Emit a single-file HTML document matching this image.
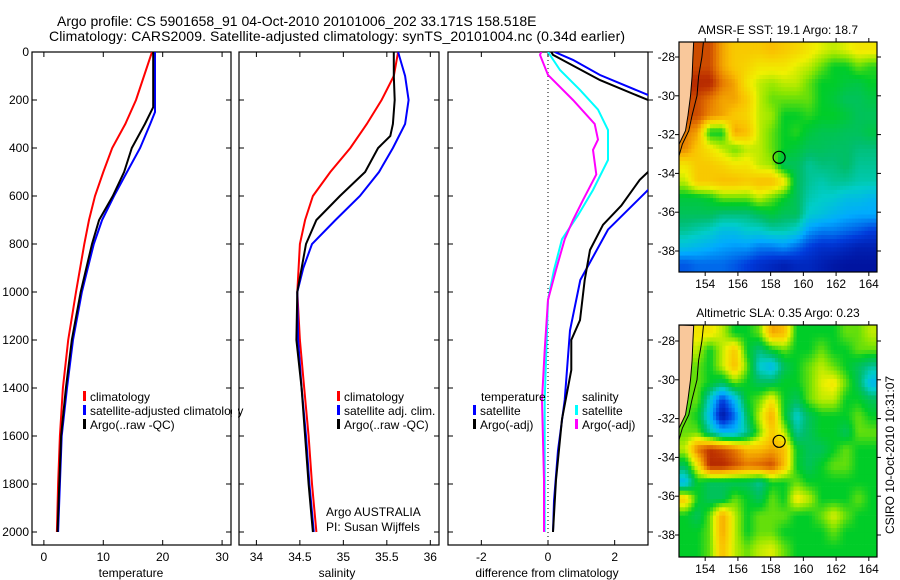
<!DOCTYPE html>
<html><head><meta charset="utf-8">
<style>
html,body{margin:0;padding:0;background:#fff;}
svg{display:block;font-family:"Liberation Sans",sans-serif;}
</style></head>
<body>
<svg id="fig" width="900" height="580" viewBox="0 0 900 580" xmlns="http://www.w3.org/2000/svg">
<defs>
<clipPath id="c1"><rect x="32" y="52" width="199" height="493"/></clipPath>
<clipPath id="c2"><rect x="239" y="52" width="200" height="493"/></clipPath>
<clipPath id="c3"><rect x="448" y="52" width="200" height="493"/></clipPath>
<clipPath id="cm1"><rect x="679" y="42" width="198" height="230"/></clipPath>
<clipPath id="cm2"><rect x="679" y="325" width="198" height="232"/></clipPath>
</defs>
<text x="57" y="26" font-size="14">Argo profile: CS 5901658_91 04-Oct-2010 20101006_202 33.171S 158.518E</text>
<text x="49" y="41" font-size="14" textLength="576">Climatology: CARS2009. Satellite-adjusted climatology: synTS_20101004.nc (0.34d earlier)</text>
<g id="layer"></g>
</svg>
<script>
// ---------- profile data ----------
const tClimDepth=[0,200,300,400,500,600,700,800,1000,1200,1400,1600,1800,2000];
const tClim=[18.2,15.5,13.7,11.5,10,8.6,7.6,6.8,5.4,4.1,3.2,2.7,2.4,2.2];
const tSatDepth=[0,250,300,400,500,600,700,800,900,1000,1200,1400,1600,1800,2000];
const tSat=[18.7,18.7,17.9,16.2,14,11.8,9.8,8.4,7.4,6.4,4.9,3.9,3.0,2.7,2.4];
const tArgoDepth=[0,230,300,400,500,600,700,800,1000,1200,1400,1600,1800,2000];
const tArgo=[18.4,18.4,17,14.8,13.5,11.6,9.3,8.1,6.2,4.7,3.7,2.9,2.6,2.3];

const sClimDepth=[0,100,200,300,400,500,600,700,800,1000,1200,1400,1600,1800,2000];
const sClim=[35.63,35.58,35.44,35.27,35.08,34.85,34.65,34.56,34.5,34.47,34.5,34.55,34.6,34.64,34.69];
const sSatDepth=[0,50,100,200,300,400,500,600,700,800,900,1000,1200,1400,1600,1800,2000];
const sSat=[35.63,35.67,35.71,35.75,35.71,35.57,35.41,35.19,34.91,34.64,34.54,34.47,34.48,34.52,34.57,34.61,34.66];
const sArgoDepth=[0,100,200,300,350,400,500,600,700,800,1000,1200,1400,1600,1800,2000];
const sArgo=[35.58,35.58,35.59,35.57,35.54,35.4,35.25,34.96,34.69,34.57,34.47,34.46,34.52,34.56,34.6,34.65];

const dTSatDepth=[0,33,96,179,250,400,575,740,950,1160,1450,1660,1870,2000];
const dTSat=[0.2,0.75,1.56,3,4,4.5,3,1.8,0.97,0.66,0.5,0.3,0.18,0.15];
const dTArgoDepth=[0,12,117,200,300,500,533,640,720,825,950,1117,1200,1325,1530,1783,2000];
const dTArgo=[0.1,0.15,1.56,3,4,3,2.75,2.2,1.65,1.26,1.1,0.96,0.7,0.7,0.42,0.24,0.15];
const dSSatDepth=[0,75,158,240,325,450,575,680,780,908,1033,1450,2000];
const dSSat=[0,0.36,0.96,1.5,1.8,1.8,1.35,0.9,0.42,0.18,0,-0.1,-0.1];
const dSArgoDepth=[0,12,96,200,300,365,408,510,617,700,780,908,1033,1242,1450,1783,2000];
const dSArgo=[-0.2,-0.24,0,0.75,1.4,1.5,1.35,1.45,1.05,0.75,0.5,0.24,0,-0.1,-0.18,-0.12,-0.12];

const depthTicks=[0,200,400,600,800,1000,1200,1400,1600,1800,2000];
const tempTicks=[0,10,20,30];
const salTicks=[34,34.5,35,35.5,36];
const salTickLabels=["34","34.5","35","35.5","36"];
const diffTicks=[-2,0,2];

// ---------- map data (values 0..1 on colour scale, null = land) ----------
const sstGrid=[
[null,null,0.85,0.75,0.7,0.7,0.7,0.72,0.7,0.68,0.65,0.62,0.6,0.62,0.65,0.65],
[null,0.85,0.85,0.75,0.7,0.68,0.65,0.65,0.65,0.62,0.6,0.55,0.5,0.5,0.55,0.52],
[null,0.9,0.9,0.8,0.75,0.65,0.6,0.58,0.6,0.6,0.55,0.5,0.5,0.48,0.47,0.5],
[null,0.85,0.8,0.75,0.75,0.7,0.6,0.55,0.55,0.55,0.55,0.5,0.48,0.45,0.45,0.47],
[null,0.85,0.78,0.75,0.7,0.68,0.6,0.58,0.5,0.5,0.52,0.5,0.5,0.48,0.45,0.45],
[0.8,0.75,0.5,0.5,0.75,0.72,0.6,0.55,0.5,0.52,0.48,0.46,0.46,0.45,0.45,0.47],
[0.78,0.7,0.65,0.6,0.55,0.6,0.6,0.55,0.5,0.48,0.45,0.45,0.44,0.44,0.42,0.42],
[0.65,0.7,0.7,0.68,0.65,0.65,0.6,0.58,0.45,0.45,0.4,0.42,0.42,0.44,0.4,0.4],
[0.6,0.7,0.7,0.72,0.72,0.7,0.72,0.72,0.65,0.45,0.4,0.38,0.4,0.4,0.38,0.38],
[0.48,0.48,0.5,0.55,0.55,0.55,0.6,0.55,0.5,0.45,0.38,0.36,0.35,0.32,0.32,0.3],
[0.45,0.45,0.45,0.42,0.42,0.42,0.45,0.48,0.45,0.45,0.35,0.33,0.3,0.28,0.27,0.27],
[0.4,0.38,0.36,0.32,0.32,0.35,0.35,0.38,0.38,0.35,0.25,0.22,0.22,0.2,0.18,0.15],
[0.32,0.3,0.28,0.26,0.25,0.25,0.22,0.22,0.24,0.2,0.15,0.12,0.12,0.1,0.08,0.08],
[0.18,0.2,0.2,0.2,0.18,0.15,0.12,0.1,0.08,0.1,0.1,0.08,0.06,0.05,0.05,0.05]];
const slaGrid=[
[null,null,0.65,0.6,0.5,0.5,0.55,0.75,0.72,0.5,0.5,0.5,0.5,0.55,0.55,0.6],
[null,0.6,0.5,0.6,0.7,0.5,0.42,0.5,0.55,0.5,0.5,0.55,0.5,0.5,0.55,0.55],
[null,0.55,0.5,0.6,0.72,0.55,0.35,0.3,0.45,0.5,0.55,0.6,0.55,0.5,0.45,0.4],
[null,0.55,0.5,0.45,0.55,0.5,0.45,0.45,0.5,0.5,0.55,0.62,0.65,0.55,0.45,0.3],
[null,0.55,0.35,0.15,0.3,0.5,0.55,0.65,0.5,0.45,0.55,0.6,0.6,0.5,0.5,0.45],
[0.55,0.5,0.3,0.05,0.2,0.45,0.6,0.75,0.5,0.35,0.45,0.5,0.5,0.5,0.55,0.5],
[0.55,0.55,0.4,0.3,0.3,0.4,0.55,0.7,0.6,0.4,0.45,0.5,0.5,0.45,0.55,0.55],
[0.6,0.8,0.88,0.85,0.8,0.72,0.72,0.75,0.72,0.5,0.45,0.45,0.5,0.55,0.5,0.5],
[0.45,0.65,0.9,0.9,0.85,0.8,0.82,0.85,0.72,0.5,0.45,0.5,0.55,0.55,0.5,0.5],
[0.3,0.5,0.45,0.45,0.45,0.45,0.4,0.5,0.5,0.55,0.5,0.5,0.5,0.5,0.5,0.5],
[0.7,0.5,0.45,0.45,0.55,0.5,0.45,0.55,0.5,0.65,0.6,0.5,0.5,0.5,0.55,0.5],
[0.5,0.45,0.55,0.75,0.6,0.5,0.55,0.55,0.55,0.5,0.5,0.55,0.62,0.55,0.5,0.5],
[0.5,0.5,0.55,0.75,0.6,0.5,0.55,0.55,0.5,0.5,0.5,0.5,0.55,0.5,0.5,0.5],
[0.5,0.5,0.55,0.72,0.6,0.55,0.6,0.62,0.55,0.5,0.5,0.5,0.5,0.5,0.5,0.5]];
const lonTicks=[154,156,158,160,162,164];
const latTicks=[28,30,32,34,36,38];
const argoLon=158.518, argoLat=33.171;
const coastLat=[27.2,28,29,30,31,31.8,32.5,33.2];
const coastLon=[153.3,153.25,153.2,153.1,152.95,152.8,152.4,152.3];
const shelfLat=[27.2,28,29,30,31,31.8,32.5,33.1];
const shelfLon=[153.9,153.8,153.6,153.5,153.2,153.0,152.6,152.4];

// ---------- helpers ----------
const NS="http://www.w3.org/2000/svg";
const L=document.getElementById('layer');
function mk(tag,attrs,parent){const e=document.createElementNS(NS,tag);for(const k in attrs)e.setAttribute(k,attrs[k]);(parent||L).appendChild(e);return e;}
const top0=52, bot0=545;
const yD=d=>top0+d*(532-52)/2000;
function linX(lo,hi,x0,x1){return v=>x0+(v-lo)*(x1-x0)/(hi-lo);}
const xT=linX(-2,31.5,32,231);
const xS=linX(33.8,36.1,239,439);
const xDf=linX(-3,3,448,648);

function frame(x0,x1,name){
  const r=mk('rect',{x:x0,y:top0,width:x1-x0,height:bot0-top0,fill:'none',stroke:'#000','stroke-width':1.2});
  
  
}
function yTicks(x0,x1,labels,outsideRight){
  depthTicks.forEach(d=>{
    const y=yD(d);
    mk('line',{x1:x0,x2:x0+5,y1:y,y2:y,stroke:'#000'});
    if(outsideRight) mk('line',{x1:x1,x2:x1+5,y1:y,y2:y,stroke:'#000'});
    else mk('line',{x1:x1-5,x2:x1,y1:y,y2:y,stroke:'#000'});
    if(labels){const t=mk('text',{x:x0-3,y:y+4,'font-size':12,'text-anchor':'end'});t.textContent=d;
      
      }
  });
}
function xTicks(vals,labs,fx){
  vals.forEach((v,i)=>{
    const x=fx(v);
    mk('line',{x1:x,x2:x,y1:bot0,y2:bot0-5,stroke:'#000'});
    mk('line',{x1:x,x2:x,y1:top0,y2:top0+5,stroke:'#000'});
    const t=mk('text',{x:x,y:561,'font-size':12,'text-anchor':'middle'});t.textContent=labs[i];
    
    
  });
}
function series(depths,vals,fx,color,clip,name,w){
  const pts=depths.map((d,i)=>fx(vals[i]).toFixed(1)+','+yD(d).toFixed(1)).join(' ');
  const p=mk('polyline',{points:pts,fill:'none',stroke:color,'stroke-width':w||2,'clip-path':'url(#'+clip+')'});
  
  
}
function label(x,y,txt,name,size,anchor){
  const t=mk('text',{x:x,y:y,'font-size':size||12,'text-anchor':anchor||'start'});t.textContent=txt;
  
  
  return t;
}
function legend(x,y,color,txt,name){
  mk('rect',{x:x,y:y-6,width:3,height:10,fill:color});
  label(x+7,y+4,txt,name);
}

// ---------- panel 1: temperature ----------
frame(32,231,'temperature-panel');
yTicks(32,231,true,false);
xTicks(tempTicks,tempTicks.map(String),xT);
series(tClimDepth,tClim,xT,'#ff0000','c1','temp-climatology-line');
series(tSatDepth,tSat,xT,'#0000ff','c1','temp-satellite-line');
series(tArgoDepth,tArgo,xT,'#000000','c1','temp-argo-line');
label(131,577,'temperature','x-axis-title-temperature',12,'middle');
legend(83,397,'#ff0000','climatology','legend-climatology');
legend(83,411,'#0000ff','satellite-adjusted climatology','legend-satellite-adjusted');
legend(83,425,'#000000','Argo(..raw -QC)','legend-argo');
mk('rect',{x:232,y:380,width:6,height:50,fill:'#fff'});

// ---------- panel 2: salinity ----------
frame(239,439,'salinity-panel');
yTicks(239,439,false,false);
xTicks(salTicks,salTickLabels,xS);
series(sClimDepth,sClim,xS,'#ff0000','c2','sal-climatology-line');
series(sSatDepth,sSat,xS,'#0000ff','c2','sal-satellite-line');
series(sArgoDepth,sArgo,xS,'#000000','c2','sal-argo-line');
label(337,577,'salinity','x-axis-title-salinity',12,'middle');
legend(337,397,'#ff0000','climatology','legend-sal-climatology');
legend(337,411,'#0000ff','satellite adj. clim.','legend-sal-satellite');
legend(337,425,'#000000','Argo(..raw -QC)','legend-sal-argo');
label(326,516,'Argo AUSTRALIA','institution-label');
label(326,531,'PI: Susan Wijffels','pi-label');

// ---------- panel 3: difference ----------
frame(448,648,'difference-panel');
yTicks(448,648,false,true);
xTicks(diffTicks,diffTicks.map(String),xDf);
mk('line',{x1:xDf(0),x2:xDf(0),y1:top0,y2:bot0,stroke:'#000','stroke-width':1,'stroke-dasharray':'1,3'});
series(dTSatDepth,dTSat,xDf,'#0000ff','c3','diff-temp-satellite-line');
series(dTArgoDepth,dTArgo,xDf,'#000000','c3','diff-temp-argo-line');
series(dSSatDepth,dSSat,xDf,'#00ffff','c3','diff-sal-satellite-line');
series(dSArgoDepth,dSArgo,xDf,'#ff00ff','c3','diff-sal-argo-line');
label(547,577,'difference from climatology','x-axis-title-difference',12,'middle');
label(481,401,'temperature','legend-title-temperature');
legend(473,411,'#0000ff','satellite','legend-diff-temp-satellite');
legend(473,425,'#000000','Argo(-adj)','legend-diff-temp-argo');
label(582,401,'salinity','legend-title-salinity');
legend(575,411,'#00ffff','satellite','legend-diff-sal-satellite');
legend(575,425,'#ff00ff','Argo(-adj)','legend-diff-sal-argo');

// ---------- maps ----------
const stops=[[0,[0,0,130]],[0.15,[0,60,220]],[0.27,[0,170,255]],[0.36,[0,205,200]],[0.43,[0,190,110]],[0.5,[0,205,40]],[0.57,[140,230,0]],[0.63,[240,240,0]],[0.72,[250,190,0]],[0.8,[230,120,0]],[0.88,[190,50,0]],[1,[140,0,0]]];
function cmap(v){
  for(let i=1;i<stops.length;i++){if(v<=stops[i][0]){const a=stops[i-1],b=stops[i];const f=(v-a[0])/(b[0]-a[0]);
    return 'rgb('+a[1].map((c,j)=>Math.round(c+(b[1][j]-c)*f)).join(',')+')';}}
  return 'rgb(140,0,0)';
}
function filled(grid){
  return grid.map(row=>{const r=row.slice();const first=r.find(v=>v!==null);
    for(let i=0;i<r.length;i++) if(r[i]===null) r[i]=first; return r;});
}
function sample(g,fr,fc){
  const R=g.length,C=g[0].length;
  const r=Math.min(Math.max(fr-0.5,0),R-1), c=Math.min(Math.max(fc-0.5,0),C-1);
  const r0=Math.floor(r),c0=Math.floor(c),r1=Math.min(r0+1,R-1),c1=Math.min(c0+1,C-1);
  const a=r-r0,b=c-c0;
  return g[r0][c0]*(1-a)*(1-b)+g[r0][c1]*(1-a)*b+g[r1][c0]*a*(1-b)+g[r1][c1]*a*b;
}
function drawMap(grid,x0,y0,x1,y1,lat28y,lat38y,clip,name,title){
  const lonLo=152.4,lonHi=164.5;
  const fx=linX(lonLo,lonHi,x0,x1);
  const fy=linX(28,38,lat28y,lat38y);
  const g=mk('g',{'clip-path':'url(#'+clip+')'});
  
  
  const G=filled(grid);
  const rows=grid.length, cols=grid[0].length, up=4;
  const cw=(x1-x0)/(cols*up), ch=(y1-y0)/(rows*up);
  for(let r=0;r<rows*up;r++)for(let c=0;c<cols*up;c++){
    const v=sample(G,(r+0.5)/up,(c+0.5)/up);
    mk('rect',{x:(x0+c*cw).toFixed(1),y:(y0+r*ch).toFixed(1),width:(cw+0.4).toFixed(1),height:(ch+0.4).toFixed(1),fill:cmap(v)},g);
  }
  const land=coastLat.map((la,i)=>fx(coastLon[i]).toFixed(1)+','+fy(la).toFixed(1));
  land.push(x0+','+fy(33.2).toFixed(1)); land.push(x0+','+y0);
  mk('polygon',{points:land.join(' '),fill:'#f9c89b',stroke:'#000','stroke-width':1},g);
  mk('polyline',{points:shelfLat.map((la,i)=>fx(shelfLon[i]).toFixed(1)+','+fy(la).toFixed(1)).join(' '),fill:'none',stroke:'#000','stroke-width':1},g);
  mk('rect',{x:x0,y:y0,width:x1-x0,height:y1-y0,fill:'none',stroke:'#000','stroke-width':1.2});
  const c=mk('circle',{cx:fx(argoLon),cy:fy(argoLat),r:6,fill:'none',stroke:'#000','stroke-width':1.2});
  
  
  lonTicks.forEach(v=>{const x=fx(v);mk('line',{x1:x,x2:x,y1:y1,y2:y1+4,stroke:'#000'});mk('line',{x1:x,x2:x,y1:y0,y2:y0-4,stroke:'#000'});
    label(x,y1+16,String(v),'lon-tick-label',12,'middle');});
  latTicks.forEach(v=>{const y=fy(v);mk('line',{x1:x0-4,x2:x0,y1:y,y2:y,stroke:'#000'});mk('line',{x1:x1,x2:x1+4,y1:y,y2:y,stroke:'#000'});
    label(x0-4,y+4,'-'+v,'lat-tick-label',12,'end');});
  label((x0+x1)/2,y0-8,title,name+'-title',12,'middle');
}
drawMap(sstGrid,679,42,877,272,57,251,'cm1','sst-map','AMSR-E SST: 19.1 Argo: 18.7');
drawMap(slaGrid,679,325,877,557,341,535,'cm2','sla-map','Altimetric SLA: 0.35 Argo: 0.23');
const cs=label(0,0,'CSIRO 10-Oct-2010 10:31:07','csiro-timestamp',12,'middle');
cs.setAttribute('transform','translate(894,455) rotate(-90)');
</script>
</body></html>
